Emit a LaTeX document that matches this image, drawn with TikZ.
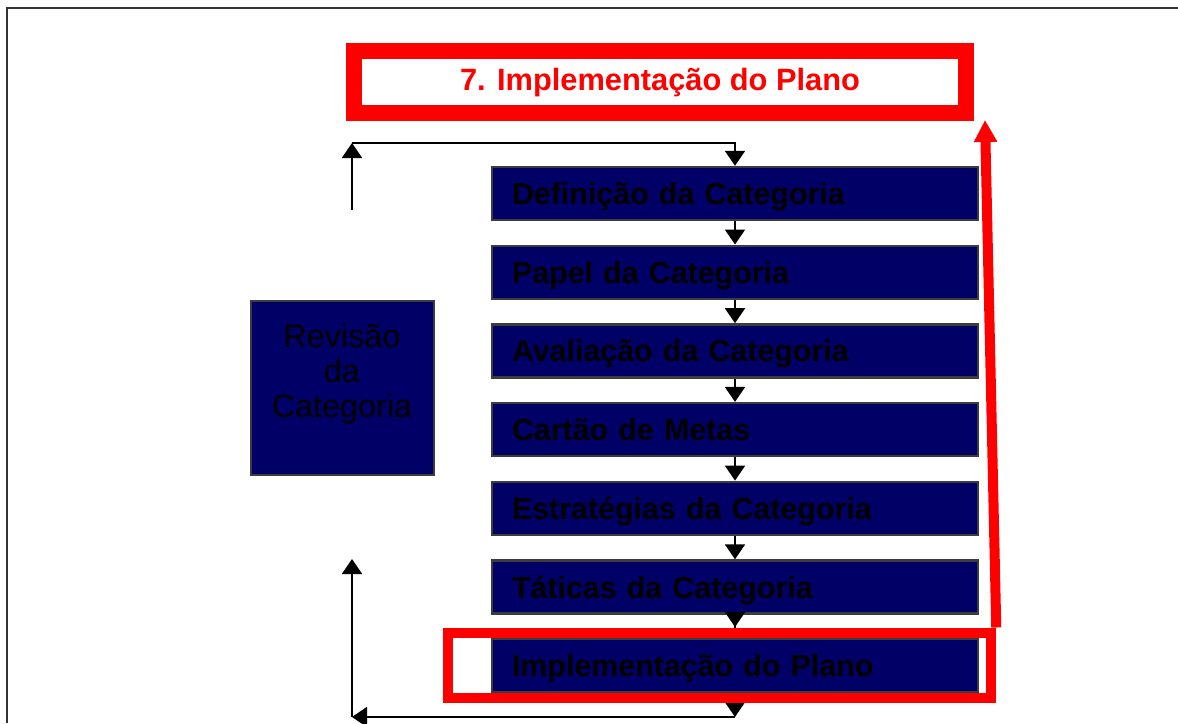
\documentclass[tikz,border=0pt]{standalone}
\usepackage{fontspec}
\setmainfont{Liberation Sans}
\usetikzlibrary{arrows.meta}
\definecolor{navy}{RGB}{0,0,102}
\definecolor{framegray}{RGB}{50,50,50}
\definecolor{boxedge}{RGB}{60,60,60}
\tikzset{
  catbox/.style={fill=navy, draw=boxedge, line width=1.2pt, minimum height=26.5pt,
    text width=223pt, inner xsep=10pt, inner ysep=0pt, align=left,
    text height=11pt, text depth=0pt, font=\fontsize{15.2pt}{18pt}\selectfont\bfseries, text=black},
  revbox/.style={fill=navy, draw=boxedge, line width=1.2pt, minimum width=91.5pt, minimum height=87pt, inner sep=0pt},
  revtext/.style={align=center, inner sep=0pt, font=\fontsize{16.2pt}{17.5pt}\selectfont, text=black},
  titlebox/.style={draw=red, line width=8pt, fill=white, minimum width=306pt, minimum height=31pt, inner sep=0pt,
    text height=11pt, text depth=3pt, font=\fontsize{15.4pt}{18pt}\selectfont\bfseries, text=red},
  hlbox/.style={draw=red, line width=5pt, minimum width=271.5pt, minimum height=32.75pt, inner sep=0pt},
  arr/.style={draw=black, line width=1pt, -{Triangle[width=10pt,length=7.5pt]}},
  redarr/.style={draw=red, line width=5pt, -{Triangle[width=11pt,length=11pt]}}
}
\begin{document}
\begin{tikzpicture}[x=0.5pt,y=-0.5pt]
\useasboundingbox (0,0) rectangle (1178,723);
\fill[white] (0,0) rectangle (1178,723);
\draw[framegray, line width=1pt] (7,723) -- (7,8) -- (1178,8);

\node[titlebox] (title) at (660,82) {7. Implementação do Plano};

\node[catbox] (b1) at (735,193.5) {Definição da Categoria};
\node[catbox] (b2) at (735,272.2) {Papel da Categoria};
\node[catbox] (b3) at (735,350.9) {Avaliação da Categoria};
\node[catbox] (b4) at (735,429.6) {Cartão de Metas};
\node[catbox] (b5) at (735,508.3) {Estratégias da Categoria};
\node[catbox] (b6) at (735,587.0) {Táticas da Categoria};
\node[catbox] (b7) at (735,665.7) {Implementação do Plano};

\node[revbox] (rev) at (342.5,388) {};
\node[revtext] (revt) at (342,374) {Revisão\\da\\Categoria};

\draw[arr] (b1.south) -- (b2.north);
\draw[arr] (b2.south) -- (b3.north);
\draw[arr] (b3.south) -- (b4.north);
\draw[arr] (b4.south) -- (b5.north);
\draw[arr] (b5.south) -- (b6.north);
\draw[draw=black, line width=1pt] (b6.south) -- (b7.north);
\draw[arr, shorten >=5.5pt] (b6.south) -- (b7.north);

\coordinate (tl) at (352,143);
\coordinate (tr) at (735,143);
\coordinate (lb) at (352,210);
\draw[arr] (lb) -- (tl);
\draw[arr] (tl) -- (tr) -- (b1.north);

\coordinate (br) at (735,717);
\coordinate (bl) at (352,717);
\coordinate (bt) at (352,559);
\draw[arr] (b7.south) -- (br);
\draw[arr] (br) -- (bl);
\draw[arr] (bl) -- (bt);

\node[hlbox] (hl) at (719.75,665.25) {};
\coordinate (redtip) at (985,120);
\draw[redarr] (hl.north east) -- (redtip);
\end{tikzpicture}
\end{document}
